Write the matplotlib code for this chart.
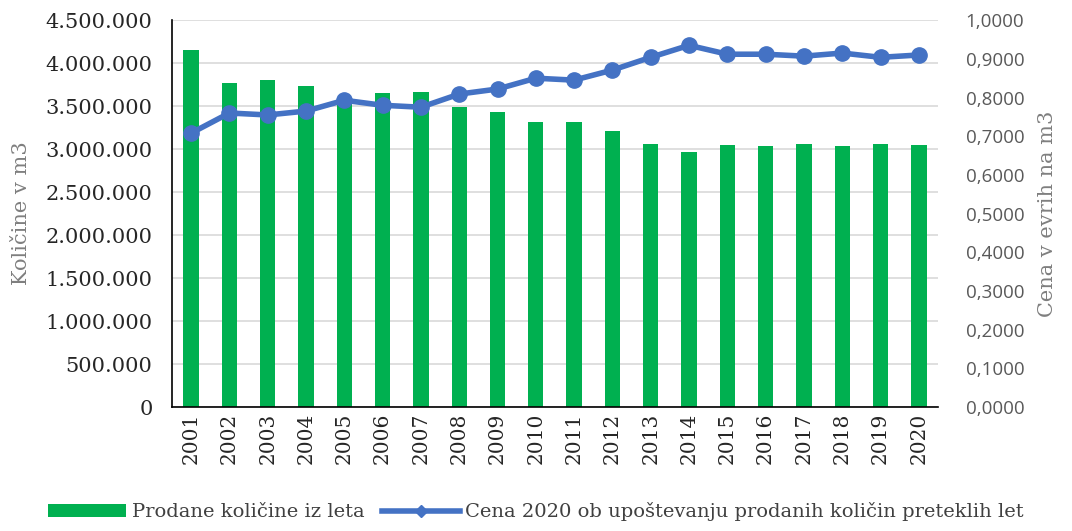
import matplotlib
matplotlib.use("Agg")
import matplotlib.pyplot as plt
import numpy as np
from matplotlib.ticker import FuncFormatter
from matplotlib.lines import Line2D

years = [str(y) for y in range(2001, 2021)]
kolicine = [4151000, 3767000, 3800000, 3730000, 3600000, 3650000, 3670000, 3490000,
            3430000, 3310000, 3320000, 3210000, 3060000, 2965000, 3050000, 3040000,
            3060000, 3040000, 3060000, 3050000]
cena = [0.708, 0.760, 0.755, 0.765, 0.793, 0.780, 0.775, 0.809, 0.822, 0.850,
        0.845, 0.871, 0.904, 0.935, 0.912, 0.912, 0.907, 0.915, 0.904, 0.910]

bar_label = "Prodane količine iz leta"
line_label = "Cena 2020 ob upoštevanju prodanih količin preteklih let"

serif = "DejaVu Serif"
x = np.arange(len(years))

fig = plt.figure(figsize=(10.72, 5.31), dpi=100)
ax = fig.add_axes([0.1604, 0.2335, 0.7146, 0.7285])
ax2 = ax.twinx()

bars = ax.bar(x, kolicine, width=0.4, color="#00B050", zorder=2)
ax.set_xlim(-0.5, len(years) - 0.5)
ax.set_ylim(0, 4500000)
ax.set_yticks(np.arange(0, 4500001, 500000))
ax.yaxis.set_major_formatter(FuncFormatter(lambda v, p: f"{int(v):,}".replace(",", ".")))
ax.grid(axis="y", color="#D9D9D9", linewidth=1.2, zorder=0)
ax.set_axisbelow(True)
ax.set_xticks(x)
ax.set_xticklabels(years, rotation=90, fontfamily=serif, fontsize=14.5, color="#262626")
for t in ax.get_yticklabels():
    t.set_fontfamily(serif)
    t.set_fontsize(15)
    t.set_color("#262626")
ax.tick_params(length=0)
ax.tick_params(axis="y", pad=14)
ax.tick_params(axis="x", pad=4)
ax.set_ylabel("Količine v m3", fontfamily=serif, fontsize=15, color="#7F7F7F", labelpad=10)
for s in ["top", "right"]:
    ax.spines[s].set_visible(False)
ax.spines["left"].set_color("black")
ax.spines["bottom"].set_color("black")
ax.spines["left"].set_linewidth(1.2)
ax.spines["bottom"].set_linewidth(1.2)

line, = ax2.plot(x, cena, color="#4472C4", linewidth=4, marker="o", markersize=11, zorder=3)
ax2.set_ylim(0, 1.0)
ax2.set_yticks(np.arange(0, 1.0001, 0.1))
ax2.yaxis.set_major_formatter(FuncFormatter(lambda v, p: f"{v:.4f}".replace(".", ",")))
for t in ax2.get_yticklabels():
    t.set_fontfamily("Open Sans")
    t.set_fontsize(13.5)
    t.set_color("#595959")
ax2.tick_params(length=0, pad=20)
ax2.set_ylabel("Cena v evrih na m3", fontfamily=serif, fontsize=15, color="#7F7F7F", labelpad=10)
for s in ax2.spines.values():
    s.set_visible(False)

line_handle = Line2D([], [], color="#4472C4", linewidth=4, marker="D", markersize=6)
fig.legend([bars, line_handle], [bar_label, line_label], loc="lower center", ncol=2,
           bbox_to_anchor=(0.5, -0.015), frameon=False, handlelength=4.0,
           columnspacing=0.9, handletextpad=0.3,
           prop={"family": serif, "size": 14}, labelcolor="#404040")

fig.savefig("out.png", dpi=100)
